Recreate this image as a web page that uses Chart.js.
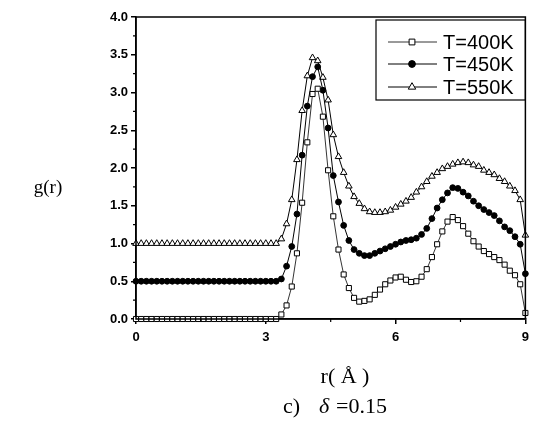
<!DOCTYPE html>
<html lang="en">
  <head>
    <meta charset="UTF-8" />
    <title>g(r)</title>
    <style>
      html, body { margin: 0; padding: 0; background: #fff; }
      #wrap { width: 535px; height: 421px; }
    </style>
  </head>
  <body>
    <div id="wrap"><canvas id="grChart" width="535" height="421"></canvas></div>

    <script src="https://cdn.jsdelivr.net/npm/chart.js"></script>
    <script>
      // r in angstrom
      const rValues = [
        0.00, 0.12, 0.24, 0.36, 0.48, 0.60, 0.72, 0.84, 0.96, 1.08, 1.20, 1.32, 1.44, 1.56,
        1.68, 1.80, 1.92, 2.04, 2.16, 2.28, 2.40, 2.52, 2.64, 2.76, 2.88, 3.00, 3.12, 3.24,
        3.36, 3.48, 3.60, 3.72, 3.84, 3.96, 4.08, 4.20, 4.32, 4.44, 4.56, 4.68, 4.80, 4.92,
        5.04, 5.16, 5.28, 5.40, 5.52, 5.64, 5.76, 5.88, 6.00, 6.12, 6.24, 6.36, 6.48, 6.60,
        6.72, 6.84, 6.96, 7.08, 7.20, 7.32, 7.44, 7.56, 7.68, 7.80, 7.92, 8.04, 8.16, 8.28,
        8.40, 8.52, 8.64, 8.76, 8.88, 9.00
      ];

      // T=400K
      const g400 = [
        0, 0, 0, 0, 0, 0, 0, 0, 0, 0, 0, 0, 0, 0,
        0, 0, 0, 0, 0, 0, 0, 0, 0, 0, 0, 0, 0, 0,
        0.06, 0.18, 0.43, 0.87, 1.54, 2.34, 2.98, 3.05, 2.68, 1.97, 1.36, 0.92, 0.59, 0.41,
        0.28, 0.23, 0.24, 0.26, 0.32, 0.39, 0.46, 0.51, 0.55, 0.56, 0.52, 0.49, 0.50, 0.56,
        0.66, 0.82, 0.99, 1.16, 1.29, 1.35, 1.31, 1.23, 1.13, 1.03, 0.96, 0.90, 0.86, 0.82,
        0.78, 0.72, 0.64, 0.58, 0.46, 0.08
      ];

      // T=450K
      const g450 = [
        0.5, 0.5, 0.5, 0.5, 0.5, 0.5, 0.5, 0.5, 0.5, 0.5, 0.5, 0.5, 0.5, 0.5,
        0.5, 0.5, 0.5, 0.5, 0.5, 0.5, 0.5, 0.5, 0.5, 0.5, 0.5, 0.5, 0.5, 0.5,
        0.53, 0.70, 0.96, 1.39, 2.17, 2.82, 3.21, 3.34, 3.03, 2.53, 1.90, 1.55, 1.24, 1.04,
        0.92, 0.87, 0.84, 0.84, 0.87, 0.90, 0.93, 0.96, 0.99, 1.02, 1.04, 1.05, 1.07, 1.12,
        1.20, 1.33, 1.47, 1.58, 1.67, 1.74, 1.73, 1.68, 1.63, 1.56, 1.50, 1.45, 1.41, 1.37,
        1.30, 1.22, 1.17, 1.09, 0.99, 0.60
      ];

      // T=550K
      const g550 = [
        1.0, 1.0, 1.0, 1.0, 1.0, 1.0, 1.0, 1.0, 1.0, 1.0, 1.0, 1.0, 1.0, 1.0,
        1.0, 1.0, 1.0, 1.0, 1.0, 1.0, 1.0, 1.0, 1.0, 1.0, 1.0, 1.0, 1.0, 1.0,
        1.06, 1.26, 1.58, 2.11, 2.76, 3.22, 3.46, 3.42, 3.20, 2.90, 2.44, 2.15, 1.94, 1.76,
        1.62, 1.53, 1.46, 1.42, 1.41, 1.41, 1.42, 1.44, 1.48, 1.52, 1.56, 1.61, 1.68, 1.75,
        1.82, 1.89, 1.94, 1.99, 2.02, 2.05, 2.07, 2.08, 2.07, 2.04, 2.02, 1.97, 1.94, 1.91,
        1.86, 1.82, 1.76, 1.70, 1.58, 1.11
      ];

      const seriesLabels = ['T=400K', 'T=450K', 'T=550K'];
      const xMinorTicks = [1.5, 4.5, 7.5];
      const yMinorTicks = [0.25, 0.75, 1.25, 1.75, 2.25, 2.75, 3.25, 3.75];

      function toPoints(ys) {
        return rValues.map((r, i) => ({ x: r, y: ys[i] }));
      }

      const tickFont = { family: 'Liberation Sans', size: 13, weight: 'bold' };

      // frame, minor ticks, axis titles and the boxed legend
      const decorations = {
        id: 'decorations',
        afterDraw(chart) {
          const ctx = chart.ctx;
          const area = chart.chartArea;
          const xs = chart.scales.x;
          const ys = chart.scales.y;
          ctx.save();
          ctx.strokeStyle = '#000';
          ctx.lineWidth = 1.5;
          ctx.strokeRect(area.left, area.top, area.right - area.left, area.bottom - area.top);

          ctx.lineWidth = 1.2;
          ctx.beginPath();
          xMinorTicks.forEach(v => {
            const px = xs.getPixelForValue(v);
            ctx.moveTo(px, area.bottom);
            ctx.lineTo(px, area.bottom + 3);
          });
          yMinorTicks.forEach(v => {
            const py = ys.getPixelForValue(v);
            ctx.moveTo(area.left, py);
            ctx.lineTo(area.left - 3, py);
          });
          ctx.stroke();

          ctx.fillStyle = '#000';
          ctx.textBaseline = 'middle';
          ctx.textAlign = 'center';
          ctx.font = '19px "Liberation Serif"';
          ctx.fillText('g(r)', 48, 188);

          ctx.font = '22px "Liberation Serif"';
          ctx.fillText('r( Å )', 345, 377);

          ctx.textAlign = 'left';
          ctx.fillText('c)', 283, 407);
          ctx.font = 'italic 22px "Liberation Serif"';
          ctx.fillText('δ', 319, 407);
          ctx.font = '22px "Liberation Serif"';
          ctx.fillText('=0.15', 336, 407);

          // legend
          const box = { left: 376, top: 20, right: area.right, bottom: 100 };
          ctx.lineWidth = 1.2;
          ctx.strokeRect(box.left, box.top, box.right - box.left, box.bottom - box.top);
          const rows = [42, 64, 87];
          chart.data.datasets.forEach((ds, i) => {
            const y = rows[i];
            ctx.strokeStyle = '#000';
            ctx.lineWidth = ds.borderWidth;
            ctx.beginPath();
            ctx.moveTo(388, y);
            ctx.lineTo(437, y);
            ctx.stroke();
            ctx.fillStyle = ds.pointBackgroundColor;
            ctx.strokeStyle = ds.pointBorderColor;
            ctx.lineWidth = 1;
            Chart.helpers.drawPoint(ctx, {
              pointStyle: ds.pointStyle,
              radius: ds.pointRadius + 0.5,
              borderWidth: 1,
              rotation: 0
            }, 412, y);
            ctx.fillStyle = '#000';
            ctx.font = '20px "Liberation Sans"';
            ctx.textAlign = 'left';
            ctx.fillText(ds.label, 443, y + 1);
          });
          ctx.restore();
        }
      };

      new Chart(document.getElementById('grChart'), {
        type: 'line',
        data: {
          datasets: [
            {
              label: seriesLabels[0],
              data: toPoints(g400),
              borderColor: '#000',
              borderWidth: 0.8,
              pointStyle: 'rect',
              pointRadius: 3.6,
              pointBackgroundColor: '#fff',
              pointBorderColor: '#000',
              pointBorderWidth: 1,
              clip: false
            },
            {
              label: seriesLabels[1],
              data: toPoints(g450),
              borderColor: '#000',
              borderWidth: 1,
              pointStyle: 'circle',
              pointRadius: 2.9,
              pointBackgroundColor: '#000',
              pointBorderColor: '#000',
              pointBorderWidth: 1,
              clip: false
            },
            {
              label: seriesLabels[2],
              data: toPoints(g550),
              borderColor: '#000',
              borderWidth: 1,
              pointStyle: 'triangle',
              pointRadius: 3.8,
              pointBackgroundColor: '#fff',
              pointBorderColor: '#000',
              pointBorderWidth: 1,
              clip: false
            }
          ]
        },
        options: {
          responsive: false,
          animation: false,
          devicePixelRatio: 1,
          layout: { padding: { left: 0, top: 17, right: 8, bottom: 0 } },
          plugins: {
            legend: { display: false },
            tooltip: { enabled: false }
          },
          elements: { line: { tension: 0 } },
          scales: {
            x: {
              type: 'linear',
              min: 0,
              max: 9,
              afterFit(scale) { scale.height = 102; },
              border: { display: true, color: '#000', width: 1.5 },
              grid: { drawOnChartArea: false, drawTicks: true, tickLength: 5, color: '#000', lineWidth: 1.5 },
              ticks: { stepSize: 3, color: '#000', font: tickFont, padding: 6, maxRotation: 0 }
            },
            y: {
              min: 0,
              max: 4,
              afterFit(scale) { scale.width = 136; },
              border: { display: true, color: '#000', width: 1.5 },
              grid: { drawOnChartArea: false, drawTicks: true, tickLength: 5, color: '#000', lineWidth: 1.5 },
              ticks: {
                stepSize: 0.5,
                color: '#000',
                font: tickFont,
                padding: 3,
                callback: v => v.toFixed(1)
              }
            }
          }
        },
        plugins: [decorations]
      });
    </script>
  </body>
</html>
